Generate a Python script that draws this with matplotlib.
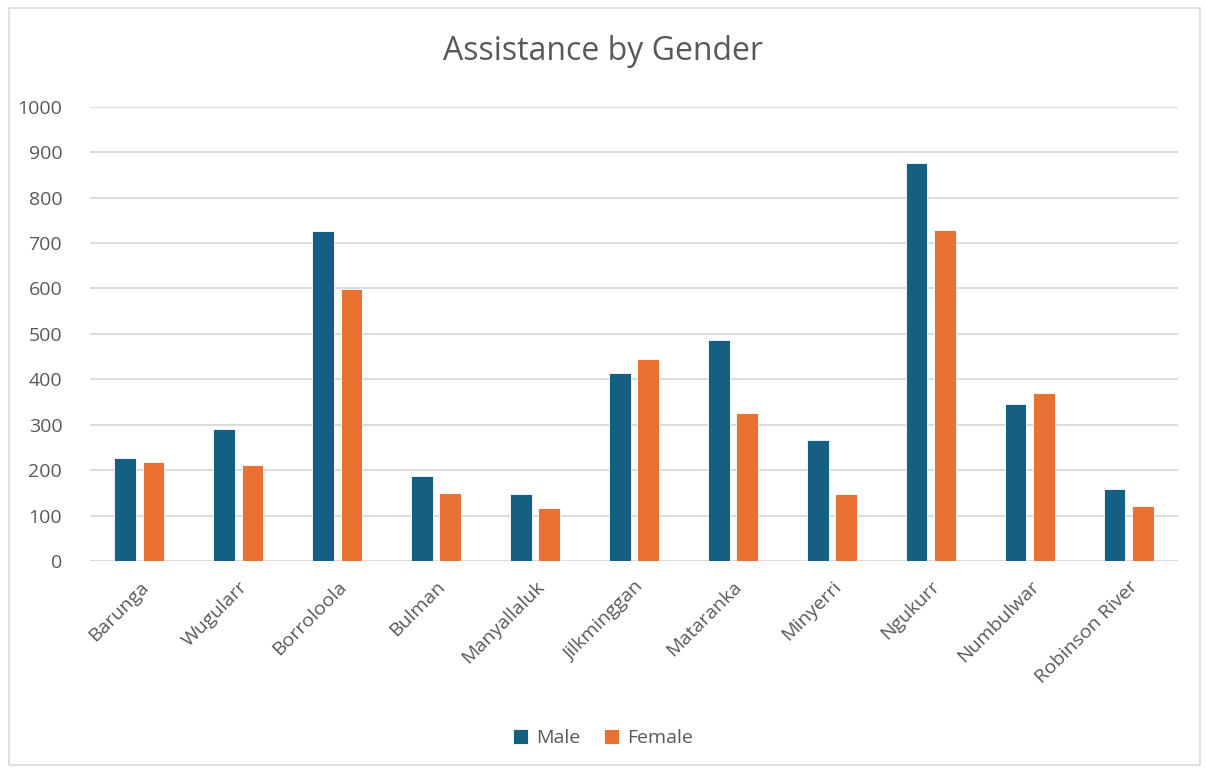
import matplotlib
matplotlib.use("Agg")
import matplotlib.pyplot as plt
import numpy as np
from matplotlib.patches import Rectangle

categories = ["Barunga", "Wugularr", "Borroloola", "Bulman", "Manyallaluk",
              "Jilkminggan", "Mataranka", "Minyerri", "Ngukurr", "Numbulwar",
              "Robinson River"]
male = [227, 291, 726, 187, 148, 413, 487, 266, 876, 345, 159]
female = [218, 212, 599, 149, 116, 444, 325, 148, 729, 370, 122]
yticks = [0, 100, 200, 300, 400, 500, 600, 700, 800, 900, 1000]

plt.rcParams['font.family'] = ['Open Sans', 'DejaVu Sans']

fig = plt.figure(figsize=(12.06, 7.71), dpi=100)
fig.patch.set_facecolor("white")
fig.patches.append(Rectangle((9/1206, 6/771), 1191/1206, 757/771, transform=fig.transFigure,
                             fill=False, edgecolor="#D9D9D9", linewidth=1.2))

ax = fig.add_axes([90/1206, 1-561/771, (1178-90)/1206, (561-106.7)/771])
x = np.arange(len(categories))
w = 0.22
off = 0.143
ax.bar(x - off, male, width=w, color="#156082", edgecolor="white", linewidth=0.6, label="Male", zorder=3)
ax.bar(x + off, female, width=w, color="#E97132", edgecolor="white", linewidth=0.6, label="Female", zorder=3)

ax.set_xlim(-0.5, len(categories) - 0.5)
ax.set_ylim(0, 1000)
ax.set_yticks(yticks)
ax.set_yticklabels([str(t) for t in yticks])
ax.yaxis.grid(True, color="#D9D9D9", linewidth=1.3, zorder=0)
ax.set_axisbelow(True)
for s in ax.spines.values():
    s.set_visible(False)
ax.tick_params(axis="both", length=0, colors="#595959", labelsize=14)
ax.tick_params(axis="y", pad=20)
ax.set_xticks(x)
ax.set_xticklabels(categories, rotation=45, ha="right", rotation_mode="anchor")
ax.tick_params(axis="x", pad=12)

fig.text(0.5, 1-52/771, "Assistance by Gender", ha="center", va="center",
         fontsize=23, color="#595959")

leg = fig.legend(loc="center", bbox_to_anchor=(0.5, 1-738/771), ncol=2, frameon=False,
                 fontsize=14, handlelength=0.8, handleheight=0.8, handletextpad=0.4,
                 columnspacing=1.2)
for t in leg.get_texts():
    t.set_color("#595959")

fig.savefig("out.png", dpi=100)
